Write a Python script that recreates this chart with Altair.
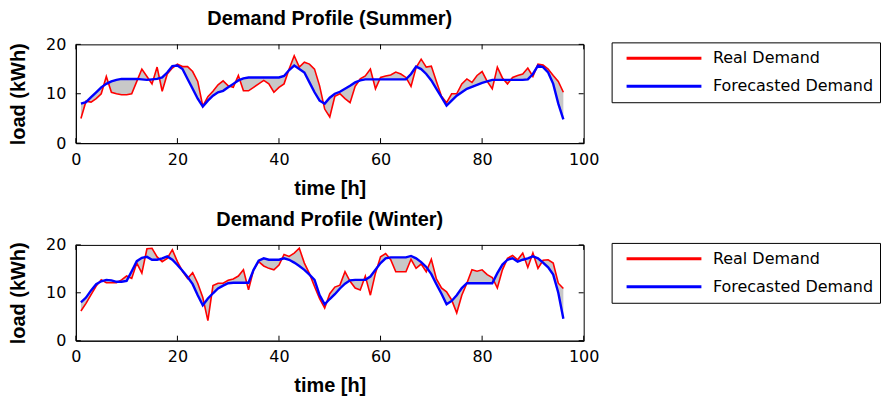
import altair as alt
import pandas as pd

hours = list(range(1, 97))

summer_real = [5.0, 8.5, 8.3, 9.0, 10.0, 13.5, 10.3, 10.0, 9.8, 9.8,
               10.0, 12.5, 15.0, 13.5, 12.0, 15.4, 10.5, 14.0, 15.2, 16.0,
               15.5, 15.5, 14.5, 12.5, 7.5, 9.4, 10.5, 11.8, 12.6, 11.6,
               11.3, 13.7, 10.6, 10.6, 11.3, 12.0, 12.7, 12.0, 10.3, 11.3,
               12.0, 15.0, 17.7, 15.4, 16.4, 16.0, 15.0, 11.6, 6.9, 5.3,
               9.5, 10.0, 9.0, 8.2, 11.5, 13.0, 13.6, 15.0, 11.0, 13.3,
               13.6, 13.8, 14.4, 14.0, 13.3, 11.5, 15.3, 17.0, 15.4, 15.6,
               12.5, 9.5, 8.2, 10.0, 10.0, 12.0, 13.0, 12.3, 13.7, 14.5,
               12.5, 11.0, 15.4, 13.2, 12.0, 13.3, 13.7, 14.0, 15.2, 13.5,
               16.0, 15.8, 15.0, 13.7, 12.5, 10.3]

summer_forecast = [8.0, 8.3, 9.3, 10.3, 11.3, 12.0, 12.5, 12.8, 13.0, 13.0,
                   13.0, 13.0, 12.9, 12.8, 12.9, 13.0, 13.3, 14.3, 15.6, 15.7,
                   15.0, 13.0, 11.0, 9.0, 7.4, 8.6, 9.6, 10.3, 10.6, 11.3,
                   12.0, 12.7, 13.1, 13.3, 13.3, 13.3, 13.3, 13.3, 13.3, 13.3,
                   13.6, 14.8, 15.7, 15.0, 14.3, 12.3, 10.3, 8.6, 8.0, 9.2,
                   10.0, 10.4, 11.0, 11.6, 12.3, 12.7, 12.9, 12.9, 12.9, 12.9,
                   12.9, 12.9, 12.9, 12.9, 12.9, 14.0, 15.5, 15.0, 14.0, 12.7,
                   11.0, 9.3, 7.6, 8.6, 9.6, 10.3, 11.0, 11.4, 11.8, 12.2,
                   12.5, 12.8, 12.8, 12.8, 12.8, 12.8, 12.8, 12.8, 12.9, 14.0,
                   15.7, 15.4, 14.3, 12.0, 8.0, 4.8]

winter_real = [6.2, 7.8, 9.6, 11.4, 12.7, 12.1, 12.1, 12.1, 12.7, 13.5,
               13.0, 16.2, 14.1, 19.2, 19.3, 17.5, 16.5, 17.2, 19.0, 16.5,
               14.5, 13.0, 14.2, 12.0, 9.0, 4.2, 11.5, 12.0, 12.0, 12.6,
               12.9, 13.5, 14.8, 10.6, 14.8, 16.5, 15.6, 15.1, 14.8, 15.8,
               18.0, 17.6, 18.3, 19.3, 16.2, 14.0, 11.3, 8.8, 6.8, 9.8,
               11.2, 11.6, 14.4, 12.4, 11.0, 10.6, 13.5, 9.5, 14.1, 17.5,
               18.2, 16.9, 14.4, 14.4, 14.4, 17.0, 15.1, 16.0, 14.4, 17.0,
               12.9, 11.0, 10.2, 8.5, 5.8, 9.5, 12.0, 14.8, 14.5, 14.8,
               13.8, 13.2, 11.0, 14.8, 17.2, 17.8, 16.9, 18.3, 15.3, 18.3,
               15.1, 16.8, 16.9, 16.2, 12.0, 10.9]

winter_forecast = [8.0, 9.0, 10.5, 11.8, 12.4, 12.7, 12.6, 12.3, 12.3, 12.5,
                   14.5, 16.6, 17.3, 17.5, 16.9, 16.9, 17.2, 17.6, 16.9, 15.8,
                   14.6, 13.3, 11.8, 9.5, 7.4, 8.8, 9.9, 10.9, 11.5, 12.0,
                   12.1, 12.1, 12.1, 12.1, 14.8, 16.7, 17.2, 16.9, 16.9, 16.9,
                   17.2, 16.9, 16.3, 15.6, 14.8, 13.8, 12.7, 9.5, 7.6, 8.7,
                   9.7, 10.9, 11.9, 12.6, 12.7, 12.7, 12.7, 13.4, 14.8, 16.2,
                   17.2, 17.4, 17.4, 17.4, 17.4, 17.7, 17.2, 16.4, 15.4, 13.9,
                   11.8, 9.8, 7.6, 8.3, 9.5, 11.0, 12.0, 12.0, 12.0, 12.0,
                   12.0, 12.0, 14.1, 15.9, 16.9, 17.2, 16.5, 16.9, 17.2, 17.6,
                   17.2, 16.3, 15.3, 13.8, 10.0, 4.6]

x_ticks = [0, 20, 40, 60, 80, 100]
y_ticks = [0, 10, 20]
series_names = ["Real Demand", "Forecasted Demand"]
series_colors = ["#ff0000", "#0000ff"]

PLOT_W = 509


def panel(title, real, fc, height):
    wide = pd.DataFrame({"t": hours, "real": real, "fc": fc})
    long = pd.concat([
        pd.DataFrame({"t": hours, "load": real, "series": series_names[0]}),
        pd.DataFrame({"t": hours, "load": fc, "series": series_names[1]}),
    ])
    xs = alt.Scale(domain=[0, 100], nice=False, zero=False)
    ys = alt.Scale(domain=[0, 20], nice=False)
    xaxis = alt.Axis(values=x_ticks, title="time [h]", format="d", labelFlush=False)
    yaxis = alt.Axis(values=y_ticks, title="load (kWh)", format="d", labelFlush=False)

    area = alt.Chart(wide).mark_area(color="#c8c8c8", opacity=1).encode(
        x=alt.X("t:Q", scale=xs, axis=xaxis),
        y=alt.Y("real:Q", scale=ys, axis=yaxis),
        y2="fc:Q",
    )
    color = alt.Color(
        "series:N",
        scale=alt.Scale(domain=series_names, range=series_colors),
        legend=alt.Legend(
            title=None, orient="none", legendX=537, legendY=-2,
            symbolType="stroke", symbolSize=5625, symbolStrokeWidth=3,
            clipHeight=20, rowPadding=8, padding=6,
            symbolOffset=7.5, labelOffset=10, labelLimit=400,
            labelFont="DejaVu Sans", labelFontSize=16, labelColor="black",
            strokeColor="black", fillColor="white",
        ),
    )
    red = alt.Chart(long).transform_filter(
        alt.datum.series == series_names[0]
    ).mark_line(strokeWidth=1.6).encode(
        x=alt.X("t:Q", scale=xs), y=alt.Y("load:Q", scale=ys), color=color
    )
    blue = alt.Chart(long).transform_filter(
        alt.datum.series == series_names[1]
    ).mark_line(strokeWidth=2.4).encode(
        x=alt.X("t:Q", scale=xs), y=alt.Y("load:Q", scale=ys), color=color
    )
    xt = pd.DataFrame({"v": x_ticks})
    yt = pd.DataFrame({"v": y_ticks})
    tb = alt.Chart(xt).mark_rule(color="black").encode(
        x=alt.X("v:Q", scale=xs), y=alt.value(height), y2=alt.value(height - 5))
    tt = alt.Chart(xt).mark_rule(color="black").encode(
        x=alt.X("v:Q", scale=xs), y=alt.value(0), y2=alt.value(5))
    tl = alt.Chart(yt).mark_rule(color="black").encode(
        y=alt.Y("v:Q", scale=ys), x=alt.value(0), x2=alt.value(5))
    tr = alt.Chart(yt).mark_rule(color="black").encode(
        y=alt.Y("v:Q", scale=ys), x=alt.value(PLOT_W), x2=alt.value(PLOT_W - 5))

    return alt.layer(area, red, blue, tb, tt, tl, tr).properties(
        width=PLOT_W, height=height,
        title=alt.TitleParams(title, font="Liberation Sans", fontSize=20,
                              fontWeight="bold", anchor="middle", offset=7,
                              color="black"),
    )


top = panel("Demand Profile (Summer)", summer_real, summer_forecast, 99)
bottom = panel("Demand Profile (Winter)", winter_real, winter_forecast, 96)

chart = alt.vconcat(top, bottom, spacing=10).resolve_legend(
    color="independent"
).properties(padding=0).configure_view(
    stroke="black", strokeWidth=1
).configure_axis(
    grid=False, domainColor="black", tickSize=0,
    labelFont="DejaVu Sans", labelFontSize=16, labelColor="black",
    titleFont="Liberation Sans", titleFontSize=20, titleFontWeight="bold",
    titleColor="black",
).configure_axisX(labelPadding=8, titlePadding=11).configure_axisY(
    labelPadding=10, titlePadding=17
)

chart.save("out.html", embed_options={"renderer": "svg", "actions": False})
